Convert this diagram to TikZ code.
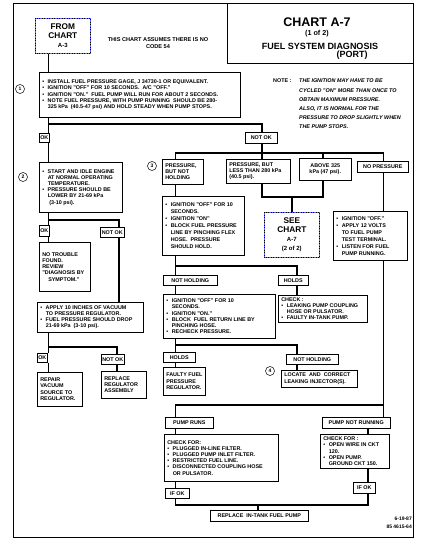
\documentclass[tikz,border=0pt]{standalone}
\usepackage{fontspec}
\setmainfont{Liberation Sans}
\newcommand\sm{\fontsize{5.4}{6.2}\selectfont\bfseries}
\newcommand\smb{\fontsize{5.4}{7}\selectfont\bfseries}
\newcommand\bu{\makebox[5.5pt][l]{\textbullet}}
\newcommand\ind{\hspace*{5.5pt}}
\newcommand\bx[6][box]{\node[#1, minimum width=#4, minimum height=#5] (#2) at (#3) {\begin{minipage}{\dimexpr#4pt-6pt\relax}\raggedright\hfuzz=20pt #6\end{minipage}};}
\newcommand\cb[5]{\node[cbox, minimum width=#3, minimum height=#4] (#1) at (#2) {#5};}
\begin{document}
\begin{tikzpicture}[x=1pt,y=-1pt,
  box/.style={draw, line width=0.5pt, inner xsep=1pt, inner ysep=1pt, align=left, font=\sm, anchor=north west},
  cbox/.style={box, align=center},
  bbox/.style={box, font=\smb},
  dotbox/.style={box, align=center, draw=blue!60, line width=0.6pt},
  dotover/.style={line width=0.9pt, dash pattern=on 0.5pt off 2pt},
  conn/.style={line width=1.7pt},
  circ/.style={circle, draw, line width=0.5pt, minimum size=9pt, inner sep=0pt, font=\fontsize{5}{5}\selectfont\bfseries}]
\useasboundingbox (0,0) rectangle (420,548);
\fill[white] (0,0) rectangle (420,548);
% frame and title
\draw[line width=0.8pt] (13,3) rectangle (413,537);
\node[draw, line width=0.6pt, anchor=north west, minimum width=186, minimum height=60, inner sep=0pt] (title) at (227,3) {};
\node[font=\fontsize{12.5}{13}\selectfont\bfseries] (t1) at (317,22) {CHART A-7};
\node[font=\fontsize{7.2}{8}\selectfont\bfseries] (t2) at (317,34) {(1 of 2)};
\node[font=\fontsize{9}{10}\selectfont\bfseries] (t3) at (320,46) {FUEL SYSTEM DIAGNOSIS};
\node[font=\fontsize{9}{10}\selectfont\bfseries] (t4) at (352,55) {(PORT)};
% from chart
\node[dotbox, minimum width=55, minimum height=35, font=\fontsize{8.3}{9}\selectfont\bfseries] (from) at (35,18) {FROM\\CHART\\{\fontsize{6}{9}\selectfont A-3}};
\draw[dotover] (from.north west) rectangle (from.south east);
\node[font=\fontsize{5.6}{7.5}\selectfont\bfseries, align=center] (assume) at (158,43) {THIS CHART ASSUMES THERE IS NO\\CODE 54};
% note
\node[font=\fontsize{5.4}{9.2}\selectfont\bfseries, anchor=base west, inner sep=0pt] (notelbl) at (273,83) {NOTE :};
\node[font=\fontsize{5.4}{9.2}\selectfont\bfseries\itshape, anchor=north west, inner sep=0pt, align=left] (note) at (299,79) {THE IGNITION MAY HAVE TO BE\\CYCLED "ON" MORE THAN ONCE TO\\OBTAIN MAXIMUM PRESSURE.\\ALSO, IT IS NORMAL FOR THE\\PRESSURE TO DROP SLIGHTLY WHEN\\THE PUMP STOPS.};
% circles
\node[circ] (c1) at (20,89) {1};
\node[circ] (c2) at (23,177) {2};
\node[circ] (c3) at (152,166) {3};
\node[circ] (c4) at (270,371) {4};
% left column
\bx{b1}{39,72}{201}{45}{\bu INSTALL FUEL PRESSURE GAGE, J 34730-1 OR EQUIVALENT.\\\bu IGNITION "OFF" FOR 10 SECONDS. \ A/C "OFF."\\\bu IGNITION "ON." \ FUEL PUMP WILL RUN FOR ABOUT 2 SECONDS.\\\bu NOTE FUEL PRESSURE, WITH PUMP RUNNING \ SHOULD BE 280-\\\ind 325 kPa \ (40.5-47 psi) AND HOLD STEADY WHEN PUMP STOPS.}
\cb{ok1}{39,133}{10}{9}{OK}
\cb{nok1}{245,132}{32}{11}{NOT OK}
\bx{b2}{39,162}{83}{50}{\bu START AND IDLE ENGINE\\\ind AT NORMAL OPERATING\\\ind TEMPERATURE.\\\bu PRESSURE SHOULD BE\\\ind LOWER BY 21-69 kPa\\\ind\ (3-10 psi).}
\cb{ok2}{39,225}{10}{11}{OK}
\cb{nok2}{100,227}{24}{10}{NOT OK}
\bx{nt}{39,242}{51}{49}{NO TROUBLE\\FOUND.\\REVIEW\\"DIAGNOSIS BY\\\hspace*{6pt}SYMPTOM."}
\bx{ap}{37,302}{106}{30}{\bu APPLY 10 INCHES OF VACUUM\\\ind TO PRESSURE REGULATOR.\\\bu FUEL PRESSURE SHOULD DROP\\\ind 21-69 kPa \ (3-10 psi).}
\cb{ok3}{37,353}{10}{9}{OK}
\cb{nok3}{101,354}{23}{10}{NOT OK}
\bx{rep}{37,372}{45}{34}{REPAIR\\VACUUM\\SOURCE TO\\REGULATOR.}
\bx{rpl}{101,371}{45}{27}{REPLACE\\REGULATOR\\ASSEMBLY}
% right part
\bx{p1}{162,159}{41}{25}{PRESSURE,\\BUT NOT\\HOLDING}
\bx{p2}{226,159}{64}{24}{PRESSURE, BUT\\LESS THAN 280 kPa\\(40.5 psi).}
\cb{p3}{299,158}{52}{22}{ABOVE 325\\kPa (47 psi).}
\cb{p4}{357,161}{51}{11}{NO PRESSURE}
\node[dotbox, minimum width=55, minimum height=45, font=\fontsize{8.3}{9}\selectfont\bfseries] (see) at (264,212) {SEE\\CHART\\{\fontsize{6}{8.5}\selectfont A-7}\\{\fontsize{6}{8}\selectfont (2 of 2)}};
\draw[dotover] (see.north west) rectangle (see.south east);
\bx[bbox]{i1}{162,196}{82}{59}{\bu IGNITION "OFF" FOR 10\\\ind SECONDS.\\\bu IGNITION "ON"\\\bu BLOCK FUEL PRESSURE\\\ind LINE BY PINCHING FLEX\\\ind HOSE. \ PRESSURE\\\ind SHOULD HOLD.}
\bx[bbox]{i2}{333,211}{74}{49}{\bu IGNITION "OFF."\\\bu APPLY 12 VOLTS\\\ind TO FUEL PUMP\\\ind TEST TERMINAL.\\\bu LISTEN FOR FUEL\\\ind PUMP RUNNING.}
\cb{nh1}{163,275}{54}{10}{NOT HOLDING}
\cb{h1}{278,275}{30}{10}{HOLDS}
\bx{chk}{278,295}{89}{27}{CHECK :\\\bu LEAKING PUMP COUPLING\\\ind HOSE OR PULSATOR.\\\bu FAULTY IN-TANK PUMP.}
\bx{i3}{163,294}{112}{44}{\bu IGNITION "OFF" FOR 10\\\ind SECONDS.\\\bu IGNITION "ON."\\\bu BLOCK \ FUEL RETURN LINE BY\\\ind PINCHING HOSE.\\\bu RECHECK PRESSURE.}
\cb{h2}{163,352}{32}{10}{HOLDS}
\cb{nh2}{286,354}{52}{10}{NOT HOLDING}
\bx{fy}{163,367}{42}{28}{\mbox{FAULTY FUEL}\\PRESSURE\\REGULATOR.}
\bx{loc}{281,370}{76}{17}{LOCATE \ AND \ CORRECT\\LEAKING INJECTOR(S).}
\cb{pr}{165,417}{48}{11}{PUMP RUNS}
\cb{pnr}{322,417}{68}{11}{PUMP NOT RUNNING}
\bx{ck1}{164,434}{114}{47}{CHECK FOR:\\\bu PLUGGED IN-LINE FILTER.\\\bu PLUGGED PUMP INLET FILTER.\\\bu RESTRICTED FUEL LINE.\\\bu DISCONNECTED COUPLING HOSE\\\ind OR PULSATOR.}
\bx{ck2}{320,434}{69}{34}{CHECK FOR :\\\bu OPEN WIRE IN CKT\\\ind 120.\\\bu OPEN PUMP.\\\ind GROUND CKT 150.}
\cb{if1}{165,488}{24}{10}{IF OK}
\cb{if2}{353,482}{22}{11}{IF OK}
\cb{repl}{210,510}{98}{11}{REPLACE \ IN-TANK FUEL PUMP}
\node[font=\fontsize{5}{8}\selectfont\bfseries, align=right, anchor=north east, inner sep=0pt] (date) at (412,517) {6-19-87\\85 4615-64};
% rails and junctions
\coordinate (xA) at (48.5,0);
\coordinate (xB) at (119,0);
\coordinate (xB2) at (117,0);
\coordinate (xN) at (262,0);
\coordinate (xP) at (175.5,0);
\coordinate (xP3) at (323,0);
\coordinate (xS) at (292,0);
\coordinate (xH) at (297,0);
\coordinate (xR) at (383.5,0);
\coordinate (xI) at (368,0);
\coordinate (xRp) at (258,0);
\coordinate (j1) at (0,124);
\coordinate (j2) at (0,220);
\coordinate (j2b) at (0,347);
\coordinate (j3) at (0,153);
\coordinate (j4) at (0,197);
\coordinate (j5) at (0,266);
\coordinate (j6) at (0,345);
\coordinate (j7) at (0,405);
\coordinate (j8) at (0,505);
% left connectors
\draw[conn] (from.south -| xA) -- (b1.north -| xA);
\draw[conn] (b1.south -| xA) -- (ok1.north -| xA);
\draw[conn] (xA |- j1) -| (nok1.north -| xN);
\draw[conn] (ok1.south -| xA) -- (b2.north -| xA);
\draw[conn] (b2.south -| xA) -- (ok2.north -| xA);
\draw[conn] (xA |- j2) -| (nok2.north -| xB);
\draw[conn] (ok2.south -| xA) -- (nt.north -| xA);
\draw[conn] (nok2.south -| xB) -- (ap.north -| xB);
\draw[conn] (ap.south -| xA) -- (ok3.north -| xA);
\draw[conn] (xA |- j2b) -| (nok3.north -| xB2);
\draw[conn] (ok3.south -| xA) -- (rep.north -| xA);
\draw[conn] (nok3.south -| xB2) -- (rpl.north -| xB2);
% right connectors
\draw[conn] (nok1.south -| xN) -- (p2.north -| xN);
\draw[conn] (p1.north -| xP) |- (xR |- j3) -- (p4.north -| xR);
\draw[conn] (xP3 |- j3) -- (p3.north -| xP3);
\draw[conn] (p2.south -| xN) |- (xP3 |- j4) -- (p3.south -| xP3);
\draw[conn] (xS |- j4) -- (see.north -| xS);
\draw[conn] (p1.south -| xP) -- (i1.north -| xP);
\draw[conn] (i1.south -| xP) -- (nh1.north -| xP);
\draw[conn] (xP |- j5) -| (h1.north -| xH);
\draw[conn] (h1.south -| xH) -- (chk.north -| xH);
\draw[conn] (nh1.south -| xP) -- (i3.north -| xP);
\draw[conn] (i3.south -| xP) -- (h2.north -| xP);
\draw[conn] (xP |- j6) -| (nh2.north -| xH);
\draw[conn] (h2.south -| xP) -- (fy.north -| xP);
\draw[conn] (nh2.south -| xH) -- (loc.north -| xH);
\draw[conn] (p4.south -| xR) -- (i2.north -| xR);
\draw[conn] (i2.south -| xR) -- (pnr.north -| xR);
\draw[conn] (xR |- j7) -| (pr.north -| xP);
\draw[conn] (pr.south -| xP) -- (ck1.north -| xP);
\draw[conn] (ck1.south -| xP) -- (if1.north -| xP);
\draw[conn] (if1.south -| xP) |- (xI |- j8) -- (if2.south -| xI);
\draw[conn] (if2.north -| xI) -- (ck2.south -| xI);
\draw[conn] (pnr.south -| xI) -- (ck2.north -| xI);
\draw[conn] (xRp |- j8) -- (repl.north -| xRp);
\end{tikzpicture}
\end{document}
